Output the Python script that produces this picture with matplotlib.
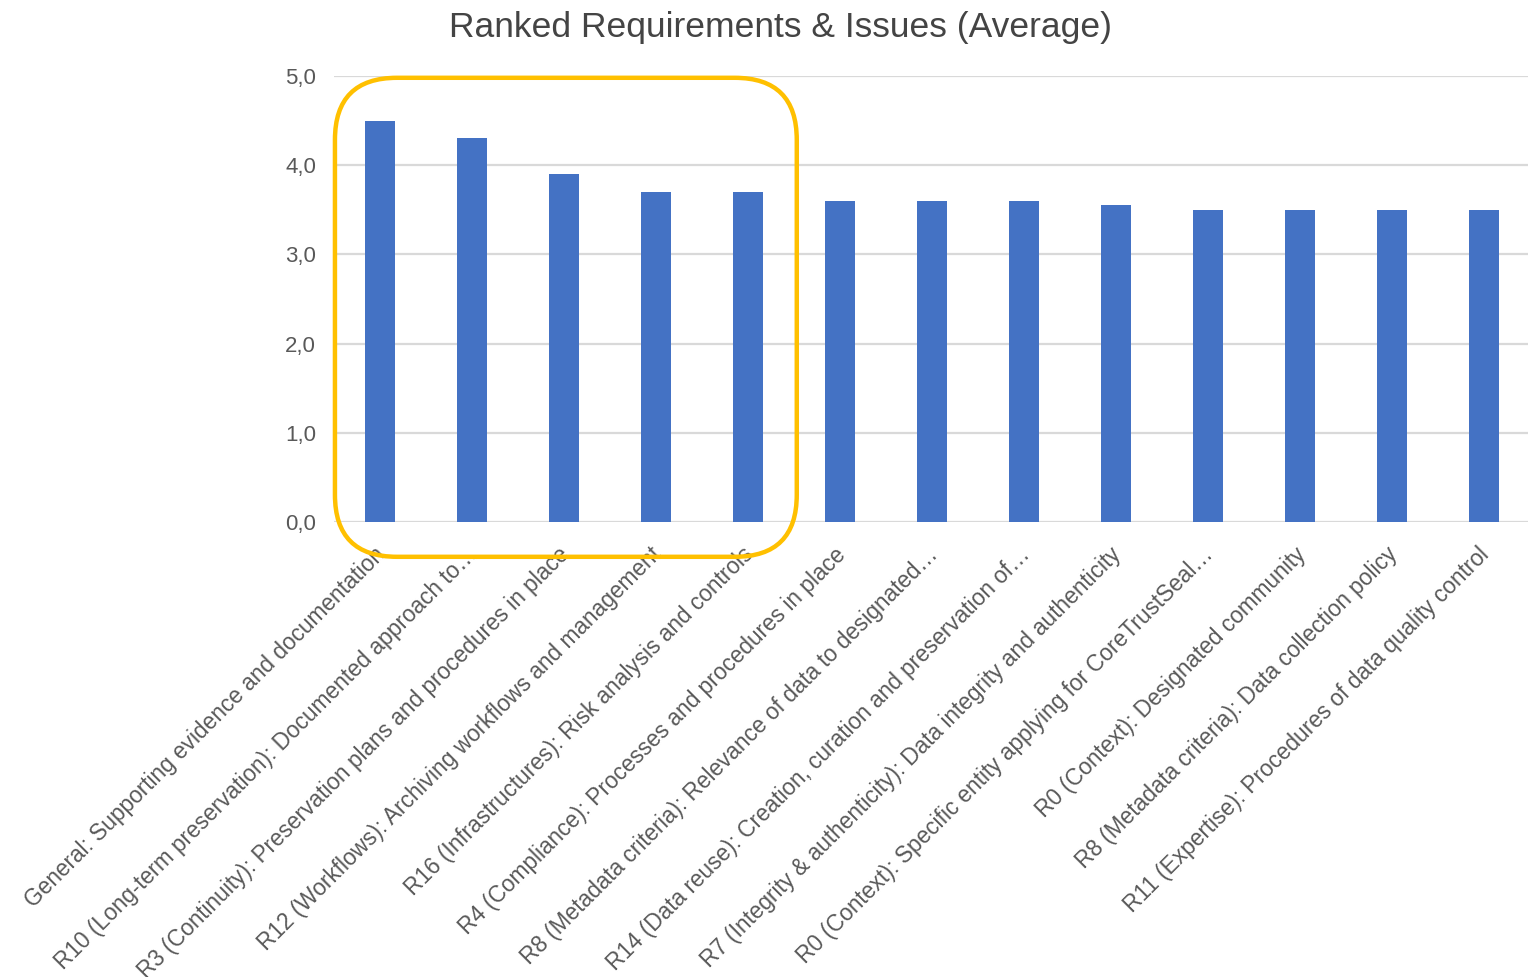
import matplotlib
matplotlib.use("Agg")
import matplotlib.pyplot as plt
from matplotlib.patches import FancyBboxPatch
from matplotlib.transforms import IdentityTransform, ScaledTranslation

# Averages per requirement, already ranked high to low
requirements = [
    "General: Supporting evidence and documentation",
    "R10 (Long-term preservation): Documented approach to…",
    "R3 (Continuity): Preservation plans and procedures in place",
    "R12 (Workflows): Archiving workflows and management",
    "R16 (Infrastructures): Risk analysis and controls",
    "R4 (Compliance): Processes and procedures in place",
    "R8 (Metadata criteria): Relevance of data to designated…",
    "R14 (Data reuse): Creation, curation and preservation of…",
    "R7 (Integrity & authenticity): Data integrity and authenticity",
    "R0 (Context): Specific entity applying for CoreTrustSeal…",
    "R0 (Context): Designated community",
    "R8 (Metadata criteria): Data collection policy",
    "R11 (Expertise): Procedures of data quality control",
]
averages = [4.5, 4.3, 3.9, 3.7, 3.7, 3.6, 3.6, 3.6, 3.55, 3.5, 3.5, 3.5, 3.5]
y_ticks = [0.0, 1.0, 2.0, 3.0, 4.0, 5.0]
highlight_first = 5  # bars inside the yellow box

plt.rcParams["font.family"] = ["Liberation Sans", "DejaVu Sans"]
text_grey = "#595959"

fig = plt.figure(figsize=(15.28, 9.77), dpi=100)
ax = fig.add_axes([0.2186, 0.4657, 0.7827, 0.4565])

x = list(range(len(averages)))
ax.bar(x, averages, width=0.32, color="#4472C4", zorder=3)

ax.set_xlim(-0.5, len(averages) - 0.5)
ax.set_ylim(0, 5)
ax.set_yticks(y_ticks)
ax.set_yticklabels([f"{v:.1f}".replace(".", ",") for v in y_ticks])
ax.grid(axis="y", color="#d9d9d9", linewidth=1.6, zorder=0)
for side in ("top", "right", "left", "bottom"):
    ax.spines[side].set_visible(False)
ax.tick_params(axis="y", length=0, pad=13, labelsize=16, labelcolor=text_grey)
ax.tick_params(axis="x", length=0, pad=21)

ax.set_xticks(x)
labels = ax.set_xticklabels(requirements, rotation=45, ha="right", va="center",
                            rotation_mode="anchor", fontsize=16.3, color=text_grey)
shift = ScaledTranslation(2 / 100, 0, fig.dpi_scale_trans)
for lab in labels:
    lab.set_transform(lab.get_transform() + shift)

fig.text(0.511, 0.972, "Ranked Requirements & Issues (Average)", ha="center", va="center",
         fontsize=25.5, color="#444444")

# rounded highlight box around the top five, placed from the data scale
fig.canvas.draw()
x0, y0 = ax.transData.transform((-0.49, -0.39))
x1, y1 = ax.transData.transform((highlight_first - 0.47, 4.98))
box = FancyBboxPatch((x0, y0), x1 - x0, y1 - y0,
                     boxstyle="round,pad=0,rounding_size=62",
                     transform=IdentityTransform(), fill=False,
                     edgecolor="#FFC000", linewidth=3.2, zorder=5)
fig.patches.append(box)

fig.savefig("out.png", dpi=100)
